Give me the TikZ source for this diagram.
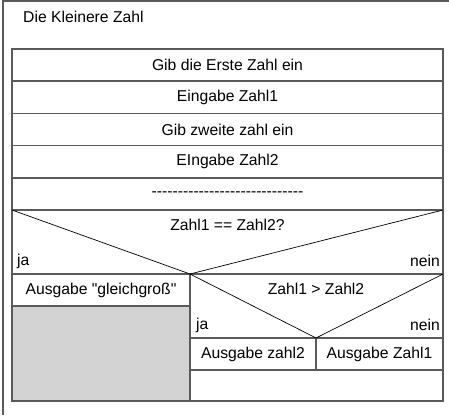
\documentclass[tikz,border=0pt]{standalone}
\usepackage{fontspec}
\setmainfont{Liberation Sans}[Ligatures=TeXOff]
\usetikzlibrary{positioning}

\definecolor{rahmen}{HTML}{5A5A5A}
\definecolor{leer}{HTML}{D3D3D3}

\tikzset{
	schrift/.style={font=\fontsize{15.7}{18}\selectfont},
	feld/.style={shape=rectangle,draw=rahmen,line width=1.6pt,inner sep=0pt,outer sep=0pt,minimum width=431pt,minimum height=32.2pt,schrift},
	kante/.style={draw=rahmen,line width=1.6pt},
	diag/.style={draw=black,line width=0.7pt},
	marke/.style={inner sep=0pt,schrift}
}

\begin{document}
\begin{tikzpicture}[x=1pt,y=-1pt]
			\useasboundingbox (0,0) rectangle (449,415);

			%% outer frame and title
			\coordinate (fu) at (3,415);
			\coordinate (fo) at (3,1);
			\coordinate (fr) at (449,1);
			\draw[rahmen, line width=1.2pt] (fu) -- (fo) -- (fr);
			\node[marke, anchor=west] (titel) at (23,17) {Die Kleinere Zahl};

			%% sequence
			\node[feld] (s1) at (227.5,65.1) {Gib die Erste Zahl ein};
			\node[feld, below=0pt of s1] (s2) {Eingabe Zahl1};
			\node[feld, below=0pt of s2] (s3) {Gib zweite zahl ein};
			\node[feld, below=0pt of s3] (s4) {EIngabe Zahl2};
			\node[feld, below=0pt of s4] (s5) {-----------------------------};

			%% first condition
			\coordinate (ul) at (12,401);
			\coordinate (ur) at (443,401);
			\coordinate (v1) at (190,274);
			\coordinate (v2) at (316,338);
			\coordinate (ml) at (12,274);
			\coordinate (mr) at (443,274);
			\coordinate (nl) at (190,338);
			\coordinate (nr) at (443,338);
			\coordinate (ol) at (190,370);
			\coordinate (or) at (443,370);
			\coordinate (gl) at (12,306);
			\coordinate (gr) at (190,306);
			\coordinate (zo) at (316,338);
			\coordinate (zu) at (316,370);

			\fill[leer] (gl) rectangle (v1 |- ul);
			\draw[kante] (s5.south west) -- (ul) -- (ur) -- (s5.south east);
			\draw[kante] (ml) -- (mr);
			\draw[kante] (v1) -- (v1 |- ul);
			\draw[kante] (gl) -- (gr);
			\draw[kante] (nl) -- (nr);
			\draw[kante] (ol) -- (or);
			\draw[kante] (zo) -- (zu);
			\draw[diag] (s5.south west) -- (v1) -- (s5.south east);
			\draw[diag] (v1) -- (v2) -- (mr);

			\node[marke] (b1) at (227.5,225) {Zahl1 == Zahl2?};
			\node[marke, anchor=west] (ja1) at (17,261) {ja};
			\node[marke, anchor=east] (nein1) at (440,261) {nein};
			\node[marke] (a1) at (101,290) {Ausgabe "gleichgroß"};

			%% second condition
			\node[marke] (b2) at (316,289) {Zahl1 > Zahl2};
			\node[marke, anchor=west] (ja2) at (196,325) {ja};
			\node[marke, anchor=east] (nein2) at (440,325) {nein};
			\node[marke] (a2) at (253,354) {Ausgabe zahl2};
			\node[marke] (a3) at (379.5,354) {Ausgabe Zahl1};
		\end{tikzpicture}
\end{document}
